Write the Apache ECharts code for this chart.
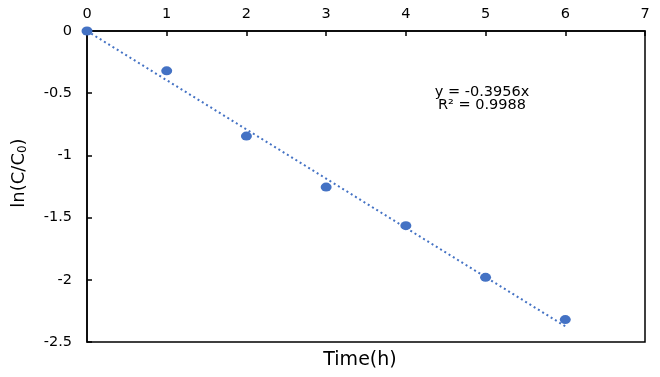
<!DOCTYPE html>
<html>
<head>
<meta charset="utf-8">
<script src="https://cdn.jsdelivr.net/npm/echarts@6/dist/echarts.min.js"></script>
<style>
  html, body { margin: 0; padding: 0; background: #fff; }
  #chart { width: 660px; height: 377px; }
</style>
</head>
<body>
<div id="chart"></div>
<script>
// 数据
var timeHours = [0, 1, 2, 3, 4, 5, 6];
var lnRatio = [0, -0.32, -0.845, -1.255, -1.565, -1.98, -2.32];
var slope = -0.3956;
var r2 = 0.9988;

var chartDom = document.getElementById('chart');
var myChart = echarts.init(chartDom);

var points = timeHours.map(function (t, i) { return [t, lnRatio[i]]; });
// 趋势线 y = slope * x
var trend = [
  [timeHours[0], slope * timeHours[0]],
  [timeHours[timeHours.length - 1], slope * timeHours[timeHours.length - 1]]
];

var font = '"DejaVu Sans", Arial, sans-serif';

var option = {
  animation: false,
  grid: {
    left: 87, top: 31, right: 15, bottom: 35,
    show: true, borderColor: '#000', borderWidth: 1.5
  },
  xAxis: {
    type: 'value',
    position: 'top',
    min: 0, max: 7, interval: 1,
    axisLine: { show: true, lineStyle: { color: '#000', width: 1.5 } },
    axisTick: { show: true, inside: true, length: 5, lineStyle: { color: '#000', width: 1.5 } },
    axisLabel: { color: '#000', fontSize: 14.5, fontFamily: font, margin: 9 },
    splitLine: { show: false }
  },
  yAxis: {
    type: 'value',
    min: -2.5, max: 0, interval: 0.5,
    axisLine: { show: true, lineStyle: { color: '#000', width: 1.5 } },
    axisTick: { show: true, inside: true, length: 5, lineStyle: { color: '#000', width: 1.5 } },
    axisLabel: { color: '#000', fontSize: 14.5, fontFamily: font, margin: 15 },
    splitLine: { show: false }
  },
  graphic: [
    {
      // 纵轴标题
      type: 'text', x: 19, y: 173, rotation: Math.PI / 2,
      style: {
        text: 'ln(C/C{sub|0})',
        fill: '#000', font: '18px ' + font,
        align: 'center', verticalAlign: 'middle',
        rich: {
          sub: { fontSize: 12, fontFamily: font, fill: '#000', padding: [7, 0, 0, 0] }
        }
      }
    },
    {
      // 横轴标题
      type: 'text', x: 360, y: 360,
      style: {
        text: 'Time(h)', fill: '#000', font: '19px ' + font,
        align: 'center', verticalAlign: 'middle'
      }
    },
    {
      // 拟合公式
      type: 'text', x: 482, y: 86,
      style: {
        text: 'y = ' + slope + 'x\nR\u00b2 = ' + r2,
        fill: '#000', font: '14.5px ' + font, lineHeight: 13,
        align: 'center', verticalAlign: 'top'
      }
    }
  ],
  series: [
    {
      type: 'line',
      data: trend,
      symbol: 'none',
      lineStyle: { color: '#4472C4', width: 2, type: [2, 3] },
      z: 2
    },
    {
      type: 'scatter',
      data: points,
      symbol: 'circle',
      symbolSize: [11, 9],
      itemStyle: { color: '#4472C4', opacity: 1 },
      z: 3
    }
  ]
};

option && myChart.setOption(option);
</script>
</body>
</html>
